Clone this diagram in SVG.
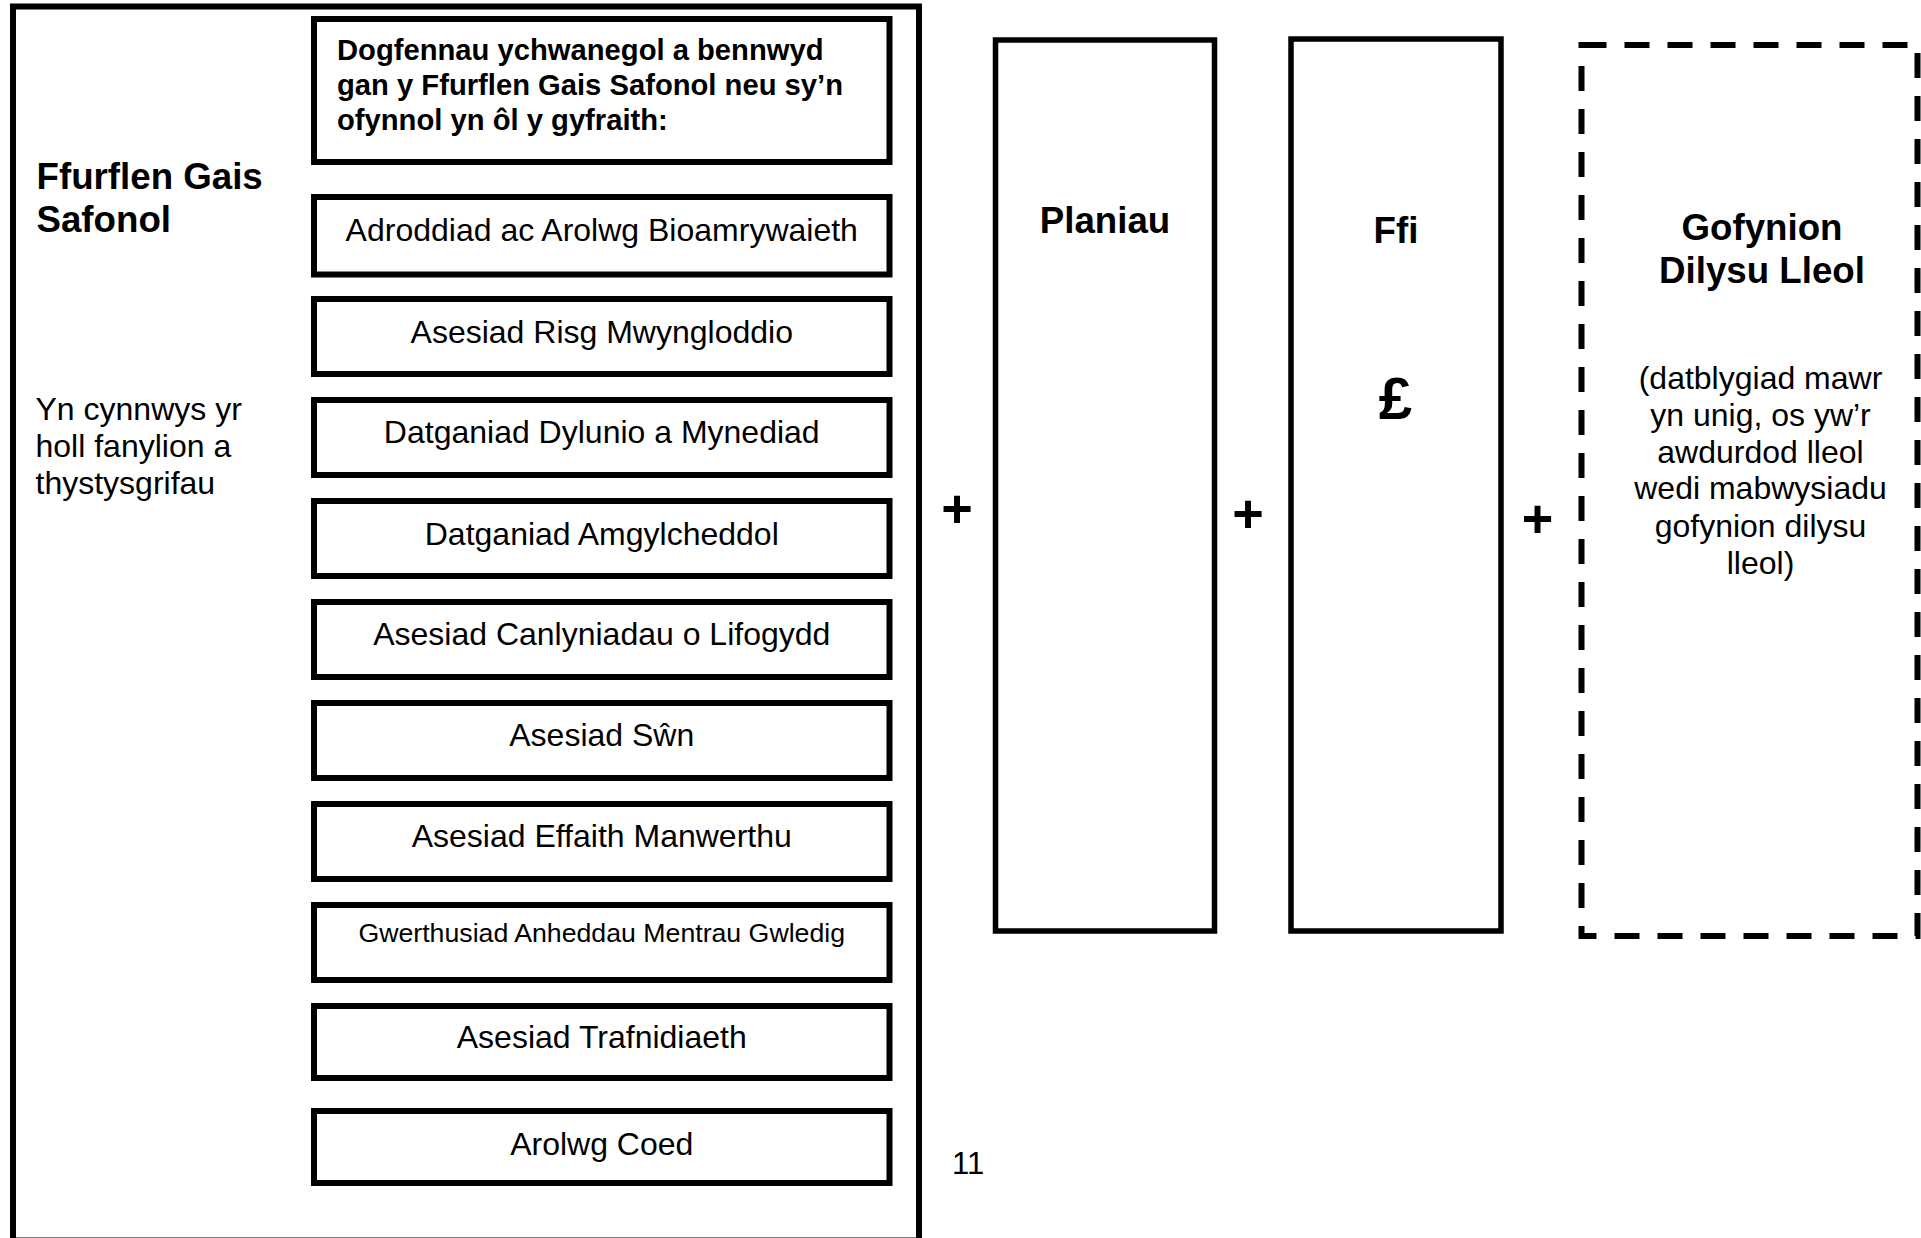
<svg xmlns="http://www.w3.org/2000/svg" width="1921" height="1238" viewBox="0 0 1921 1238">
<style>
.box{fill:#fff;stroke:#000;stroke-width:6}
.col{fill:#fff;stroke:#000;stroke-width:5.5}
.dash{fill:none;stroke:#000;stroke-width:6;stroke-dasharray:25 18}
text{font-family:"Liberation Sans",Arial,sans-serif;fill:#000}
.b{font-weight:bold}
.item{font-size:32px;text-anchor:middle}
.small{font-size:26.7px}
.hd{font-size:36.7px;font-weight:bold}
.plus{font-size:54px;font-weight:bold;text-anchor:middle}
</style>
<rect width="1921" height="1238" fill="#fff"/>
<g id="outer">
<rect class="box" x="13" y="6.5" width="906" height="1234"/>
<text class="hd" x="36.5" y="189">Ffurflen Gais</text>
<text class="hd" x="36.5" y="231.5">Safonol</text>
<text style="font-size:32px" x="35.5" y="420">Yn cynnwys yr</text>
<text style="font-size:32px" x="35.5" y="457">holl fanylion a</text>
<text style="font-size:32px" x="35.5" y="494">thystysgrifau</text>
</g>
<g id="header">
<rect class="box" x="314" y="19" width="575.5" height="143"/>
<text class="b" style="font-size:29.2px" x="337" y="60">Dogfennau ychwanegol a bennwyd</text>
<text class="b" style="font-size:29.2px" x="337" y="95">gan y Ffurflen Gais Safonol neu sy’n</text>
<text class="b" style="font-size:29.2px" x="337" y="130">ofynnol yn ôl y gyfraith:</text>
</g>
<g id="item1"><rect class="box" x="314" y="197" width="575.5" height="77.5"/><text class="item" x="601.75" y="241">Adroddiad ac Arolwg Bioamrywaieth</text></g>
<g id="item2"><rect class="box" x="314" y="299" width="575.5" height="75"/><text class="item" x="601.75" y="342.5">Asesiad Risg Mwyngloddio</text></g>
<g id="item3"><rect class="box" x="314" y="400" width="575.5" height="75"/><text class="item" x="601.75" y="443">Datganiad Dylunio a Mynediad</text></g>
<g id="item4"><rect class="box" x="314" y="501" width="575.5" height="75"/><text class="item" x="601.75" y="544.5">Datganiad Amgylcheddol</text></g>
<g id="item5"><rect class="box" x="314" y="602" width="575.5" height="75"/><text class="item" x="601.75" y="645">Asesiad Canlyniadau o Lifogydd</text></g>
<g id="item6"><rect class="box" x="314" y="703" width="575.5" height="75"/><text class="item" x="601.75" y="745.5">Asesiad Sŵn</text></g>
<g id="item7"><rect class="box" x="314" y="804" width="575.5" height="75"/><text class="item" x="601.75" y="847">Asesiad Effaith Manwerthu</text></g>
<g id="item8"><rect class="box" x="314" y="905" width="575.5" height="75"/><text class="item small" x="601.75" y="942">Gwerthusiad Anheddau Mentrau Gwledig</text></g>
<g id="item9"><rect class="box" x="314" y="1006" width="575.5" height="72"/><text class="item" x="601.75" y="1048">Asesiad Trafnidiaeth</text></g>
<g id="item10"><rect class="box" x="314" y="1111" width="575.5" height="72"/><text class="item" x="601.75" y="1154.5">Arolwg Coed</text></g>
<g id="pagenum"><text style="font-size:31px" x="952" y="1174">11</text></g>
<g id="planiau">
<rect class="col" x="995.5" y="40" width="219" height="891"/>
<text class="hd" x="1105" y="232.5" text-anchor="middle">Planiau</text>
</g>
<g id="ffi">
<rect class="col" x="1291" y="39" width="210" height="892"/>
<text class="hd" x="1396" y="242.5" text-anchor="middle">Ffi</text>
<text class="b" style="font-size:60px" x="1395.5" y="419" text-anchor="middle">£</text>
</g>
<g id="gofynion">
<rect class="dash" x="1581.5" y="45" width="336" height="891"/>
<text class="hd" x="1762" y="240" text-anchor="middle">Gofynion</text>
<text class="hd" x="1762" y="283" text-anchor="middle">Dilysu Lleol</text>
<text class="item" x="1760.5" y="389">(datblygiad mawr</text>
<text class="item" x="1760.5" y="425.7">yn unig, os yw’r</text>
<text class="item" x="1760.5" y="462.5">awdurdod lleol</text>
<text class="item" x="1760.5" y="499.2">wedi mabwysiadu</text>
<text class="item" x="1760.5" y="537">gofynion dilysu</text>
<text class="item" x="1760.5" y="574">lleol)</text>
</g>
<g id="connectors">
<text class="plus" x="957" y="527">+</text>
<text class="plus" x="1248" y="532">+</text>
<text class="plus" x="1537.5" y="537">+</text>
</g>
</svg>
